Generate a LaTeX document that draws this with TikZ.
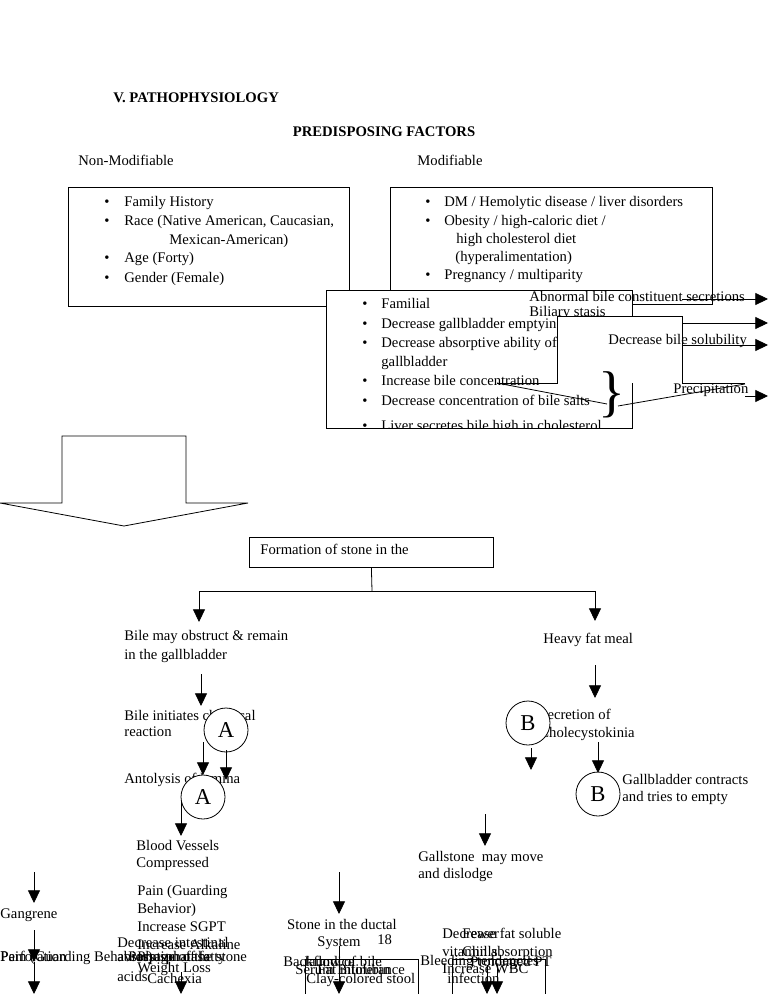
\documentclass[tikz,border=0pt]{standalone}
\usepackage{fontspec}
\setmainfont{Liberation Serif}
\usetikzlibrary{arrows.meta}

\begin{document}
\begin{tikzpicture}[x=0.75pt, y=-0.75pt, line width=0.6pt,
    txt/.style={anchor=west, inner sep=0pt, text height=7.5pt, text depth=2.5pt, font=\fontsize{11}{13}\selectfont},
    ttl/.style={txt, font=\bfseries\fontsize{11}{13}\selectfont},
    letter/.style={circle, draw, fill=white, minimum size=33pt, inner sep=0pt, font=\fontsize{17}{17}\selectfont},
    arr/.style={-{Triangle[width=9pt,length=9.5pt]}}]
    \useasboundingbox (0,0) rectangle (768,994);

    % headings
    \node[ttl] (title) at (113,99) {V. PATHOPHYSIOLOGY};
    \node[ttl, anchor=center] (predisp) at (384,133) {PREDISPOSING FACTORS};
    \node[txt] (nonmod) at (78,162) {Non-Modifiable};
    \node[txt] (mod) at (417,162) {Modifiable};

    % non-modifiable
    \draw (68,187) rectangle (349,306);
    \foreach \yy in {203,222,259,279}
        \node[txt] (nb\yy) at (104,\yy) {\textbullet};
    \node[txt] (n1) at (124,203) {Family History};
    \node[txt] (n2) at (124,222) {Race (Native American, Caucasian,};
    \node[txt] (n3) at (169,241) {Mexican-American)};
    \node[txt] (n4) at (124,259) {Age (Forty)};
    \node[txt] (n5) at (124,279) {Gender (Female)};

    % modifiable
    \draw (390,187) rectangle (712,304);
    \foreach \yy in {203,222,276}
        \node[txt] (mb\yy) at (425,\yy) {\textbullet};
    \node[txt] (m1) at (444,203) {DM / Hemolytic disease / liver disorders};
    \node[txt] (m2) at (444,222) {Obesity / high-caloric diet /};
    \node[txt] (m3) at (456,240) {high cholesterol diet};
    \node[txt] (m4) at (455,258) {(hyperalimentation)};
    \node[txt] (m5) at (444,276) {Pregnancy / multiparity};

    % causes
    \draw[fill=white] (326,290) rectangle (632,428);
    \begin{scope}
        \clip (326,290) rectangle (632,428);
        \foreach \yy in {305,325,344,382,402,427}
            \node[txt] (cb\yy) at (362,\yy) {\textbullet};
        \node[txt] (c1) at (381,305) {Familial};
        \node[txt] (c2) at (381,325) {Decrease gallbladder emptying};
        \node[txt] (c3) at (381,344) {Decrease absorptive ability of};
        \node[txt] (c4) at (381,363) {gallbladder};
        \node[txt] (c5) at (381,382) {Increase bile concentration};
        \node[txt] (c6) at (381,402) {Decrease concentration of bile salts};
        \node[txt] (c7) at (381,427) {Liver secretes bile high in cholesterol};
    \end{scope}
    \node[txt] (abn) at (529,298) {Abnormal bile constituent secretions};
    \node[txt] (stasis) at (529,313) {Biliary stasis};
    \fill[white] (557,316) rectangle (682,383);
    \draw (497,383) -- (557,383) -- (557,316) -- (682,316) -- (682,383) -- (745,383);
    \node[txt] (solub) at (608,341) {Decrease bile solubility};
    \node[txt] (precip) at (673,390) {Precipitation};
    \node[inner sep=0pt, font=\fontsize{42}{42}\selectfont] (brace) at (612,395) {\}};
    \coordinate (k1) at (497,383);
    \coordinate (k2) at (607,404);
    \coordinate (k3) at (618,406);
    \coordinate (k4) at (745,384);
    \draw (k1) -- (k2);
    \draw (k3) -- (k4);
    \foreach \yy in {299,323,345}
        \draw[arr] (682,\yy) coordinate (r\yy) -- (768,\yy) coordinate (re\yy);
    \coordinate (p1) at (745,396);
    \coordinate (p2) at (768,396);
    \draw[arr] (p1) -- (p2);

    % block arrow
    \draw (62,436) -- (186,436) -- (186,503) -- (248,503) -- (124,526)
        -- (0,503) -- (62,503) -- cycle;

    % formation of stone
    \node[draw, anchor=north west, minimum width=183pt, minimum height=22.5pt, inner sep=0pt] (form) at (249,537) {};
    \node[txt] (formtxt) at (260,551) {Formation of stone in the};
    \coordinate (fj) at (372,591);
    \coordinate (fl) at (199,591);
    \coordinate (fr) at (595,591);
    \draw (form.south) -- (fj);
    \draw (fl) -- (fr);
    \coordinate (fla) at (199,622);
    \coordinate (fra) at (595,621);
    \draw[arr] (fl) -- (fla);
    \draw[arr] (fr) -- (fra);

    % left branch
    \node[txt] (obst1) at (124,637) {Bile may obstruct \& remain};
    \node[txt] (obst2) at (124,656) {in the gallbladder};
    \node[txt] (chem1) at (124,717) {Bile initiates chemical};
    \node[txt] (chem2) at (124,733) {reaction};
    \node[txt] (anto) at (124,780) {Antolysis of lamina};
    \node[letter] (ca1) at (226,730) {A};
    \node[letter] (ca2) at (203,797) {A};
    \node[txt] (bv1) at (136,847) {Blood Vessels};
    \node[txt] (bv2) at (136,864) {Compressed};
    \node[txt] (pain1) at (137,892) {Pain (Guarding};
    \node[txt] (pain2) at (137,910) {Behavior)};
    \node[txt] (sgpt) at (137,928) {Increase SGPT};
    \node[txt] (alk) at (137,946) {Increase Alkaline};
    \node[txt] (gang) at (0,915) {Gangrene};

    % right branch
    \node[txt] (fat) at (543,640) {Heavy fat meal};
    \node[txt] (sec1) at (539,716) {Secretion of};
    \node[txt] (sec2) at (539,734) {Cholecystokinia};
    \node[letter] (cb1) at (528,723) {B};
    \node[letter] (cb2) at (598,794) {B};
    \node[txt] (gbc1) at (622,781) {Gallbladder contracts};
    \node[txt] (gbc2) at (622,798) {and tries to empty};
    \node[txt] (move1) at (418,858) {Gallstone\ \ may move};
    \node[txt] (move2) at (418,875) {and dislodge};

    % ductal stone
    \node[txt, anchor=center] (duct1) at (342,926) {Stone in the ductal};
    \node[txt, anchor=center] (duct2) at (339,943) {System};
    \node[txt] (page) at (377,941) {18};
    \coordinate (bx1) at (305,959);
    \coordinate (bx2) at (418,959);
    \draw (305,1000) -- (bx1) -- (bx2) -- (418,1000);
    \coordinate (bx3) at (452,959);
    \coordinate (bx4) at (545,959);
    \draw (452,1000) -- (bx3) -- (bx4) -- (545,1000);

    % overlapping bottom texts
    \node[txt] (perf) at (0,958) {Perforation};
    \node[txt] (guard) at (0,958) {Pain (Guarding Behavior)};
    \node[txt] (intes) at (117,944) {Decrease intestinal};
    \node[txt] (absf) at (117,958) {absorption of fatty};
    \node[txt] (acids) at (117,978) {acids};
    \node[txt] (phos) at (137,958) {Phosphatase};
    \node[txt] (pass) at (128,958) {Passage of the stone};
    \node[txt] (wl) at (137,969) {Weight Loss};
    \node[txt] (cach) at (147,980) {Cachexia};
    \node[txt] (back) at (283,963) {Backflow of bile};
    \node[txt] (jaun) at (303,963) {Jaundice};
    \node[txt] (bili) at (295,971) {Serum Bilirubin};
    \node[txt] (intol) at (317,971) {Fat intolerance};
    \node[txt] (clay) at (306,980) {Clay-colored stool};
    \node[txt] (vit1) at (442,935) {Decrease fat soluble};
    \node[txt] (fewer) at (462,935) {Fewer};
    \node[txt] (vit2) at (442,953) {vitamin absorption};
    \node[txt] (chill) at (462,953) {Chills};
    \node[txt] (bleed) at (420,962) {Bleeding tendencies};
    \node[txt] (pt) at (470,963) {Prolonged PT};
    \node[txt] (wbc) at (442,970) {Increase WBC};
    \node[txt] (infec) at (447,980) {infection};

    % arrows
    \foreach \xa/\ya/\yb in {201/674/706, 203/742/775, 226/750/780, 181/802/836,
        531/748/770, 598/742/773, 595/665/698, 485/814/846,
        34/872/903, 34/930/962, 34/962/994, 181/972/994,
        339/872/914, 339/946/994, 487/965/994, 497/965/994}
        \draw[arr] (\xa,\ya) coordinate (a\xa\ya) -- (\xa,\yb) coordinate (e\xa\ya);
\end{tikzpicture}
\end{document}
